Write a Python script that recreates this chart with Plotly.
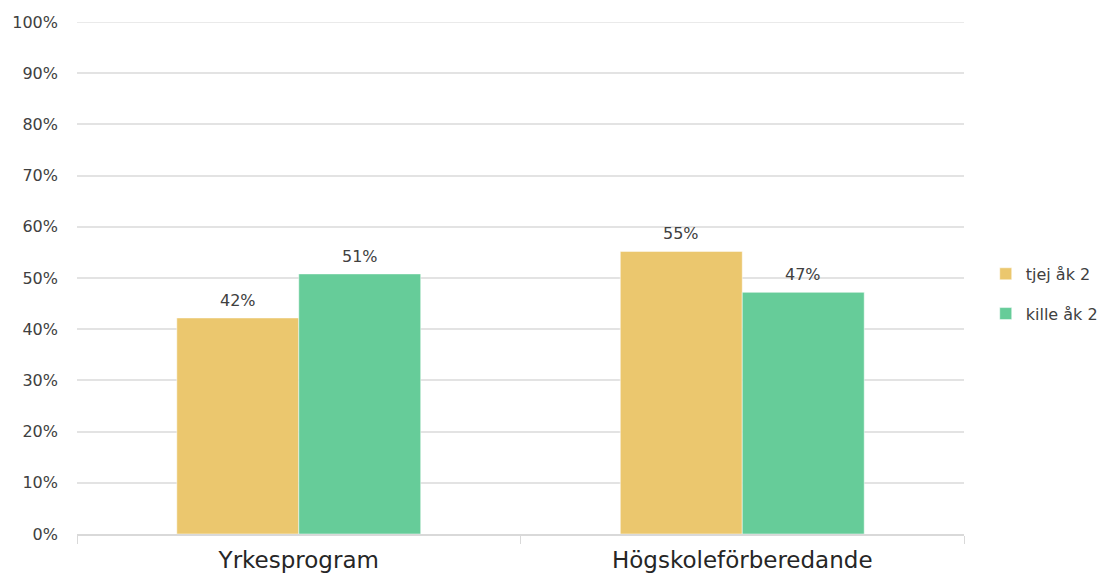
import plotly.graph_objects as go

categories = ["Yrkesprogram", "Högskoleförberedande"]
tjej = [42.2, 55.2]
kille = [50.8, 47.2]
series_names = ["tjej åk 2", "kille åk 2"]
tick_vals = [0, 10, 20, 30, 40, 50, 60, 70, 80, 90, 100]
tick_text = [f"{v}%" for v in tick_vals]

font_family = "Century Gothic, DejaVu Sans, sans-serif"
text_color = "#404040"
grid_color = "#E3E3E3"

fig = go.Figure()
series = [(series_names[0], tjej, "#EBC76E", "a", -0.25),
          (series_names[1], kille, "#66CC99", "b", 0.25)]
for name, vals, color, grp, off in series:
    fig.add_trace(go.Bar(
        x=categories, y=vals, name=name, legendgroup=grp,
        marker=dict(color=color, line=dict(color="white", width=0.5)),
    ))

fig.update_layout(
    width=1102, height=568,
    margin=dict(l=69, r=146, t=14, b=42, autoexpand=False),
    paper_bgcolor="white", plot_bgcolor="white",
    barmode="group", bargap=0.45, bargroupgap=0,
    font=dict(family=font_family, color=text_color, size=16),
    legend=dict(x=1.0245, y=0.469, xanchor="left", yanchor="middle",
                font=dict(size=16, color=text_color), tracegroupgap=16,
                itemwidth=30),
    showlegend=True,
)

# top gridline (100%) drawn at the range edge
fig.add_shape(type="line", xref="paper", yref="y", x0=0, x1=1,
              y0=tick_vals[-1], y1=tick_vals[-1],
              line=dict(color=grid_color, width=1.5), layer="below")

# data labels above bars
ann = []
for name, vals, color, grp, off in series:
    for i, v in enumerate(vals):
        ann.append(dict(x=i + off * (1 - 0.45), y=v, xref="x", yref="y",
                        text=f"{round(v):d}%", showarrow=False,
                        yanchor="bottom", yshift=6,
                        font=dict(size=16, color=text_color, family=font_family)))
fig.update_layout(annotations=ann)

fig.update_xaxes(
    showline=True, linecolor="#D9D9D9", linewidth=1.5,
    ticks="outside", tickson="boundaries", ticklen=8, tickcolor="#D9D9D9",
    tickfont=dict(size=23, color="#262626"), automargin=False,
    ticklabelstandoff=5,
)
fig.update_yaxes(
    range=[0, 100], tickvals=tick_vals, ticktext=tick_text,
    showgrid=True, gridcolor=grid_color, gridwidth=1.5,
    zeroline=False, tickfont=dict(size=16, color=text_color),
    ticks="", ticklabelstandoff=18, automargin=False,
)
fig.write_html("out.html")
